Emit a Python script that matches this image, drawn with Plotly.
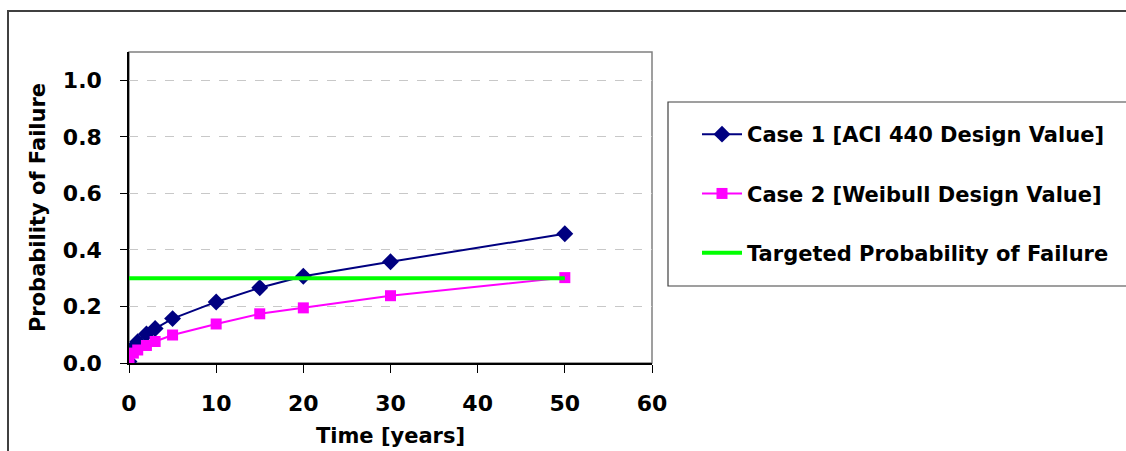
import plotly.graph_objects as go

time_years = [0, 0.5, 1, 2, 3, 5, 10, 15, 20, 30, 50]
case1_pf = [0.005, 0.055, 0.075, 0.103, 0.122, 0.157, 0.216, 0.266, 0.307, 0.358, 0.457]
case2_pf = [0.003, 0.035, 0.046, 0.062, 0.076, 0.099, 0.138, 0.174, 0.195, 0.238, 0.302]
target_time = [0, 50]
target_pf = [0.3, 0.3]

names = ["Case 1 [ACI 440 Design Value]", "Case 2 [Weibull Design Value]", "Targeted Probability of Failure"]
x_ticks = [0, 10, 20, 30, 40, 50, 60]
y_ticks = [0, 0.2, 0.4, 0.6, 0.8, 1.0]

W, H = 1126, 451
L, R, T, B = 129, 652, 52, 363
pw, ph = R - L, B - T

def px(x):
    return (x - L) / pw

def py(y):
    return (B - y) / ph

FONT = "DejaVu Sans, Liberation Sans, Arial, sans-serif"

fig = go.Figure()
fig.add_trace(go.Scatter(x=time_years, y=case1_pf, mode="lines+markers", name="<b>" + names[0] + "</b>",
                         line=dict(color="#000080", width=2), legendgroup="a",
                         marker=dict(symbol="diamond", size=13, color="#000080")))
fig.add_trace(go.Scatter(x=time_years, y=case2_pf, mode="lines+markers", name="<b>" + names[1] + "</b>",
                         line=dict(color="#FF00FF", width=2), legendgroup="b",
                         marker=dict(symbol="square", size=11, color="#FF00FF")))
fig.add_trace(go.Scatter(x=target_time, y=target_pf, mode="lines", name="<b>" + names[2] + "</b>",
                         line=dict(color="#00FF00", width=4), legendgroup="c"))

shapes = [
    dict(type="rect", xref="paper", yref="paper", x0=px(8), x1=px(1140), y0=py(11), y1=py(470),
         line=dict(color="#404040", width=2), layer="below"),
    dict(type="rect", xref="paper", yref="paper", x0=0, x1=1, y0=0, y1=1,
         line=dict(color="#808080", width=1.5), layer="below"),
    dict(type="rect", xref="paper", yref="paper", x0=px(668), x1=px(1140), y0=py(102), y1=py(286),
         line=dict(color="#404040", width=1.2), layer="below"),
]

fig.update_layout(
    width=W, height=H,
    margin=dict(l=L, r=W - R, t=T, b=H - B, autoexpand=False),
    paper_bgcolor="white", plot_bgcolor="white",
    font=dict(family=FONT, color="black", size=22),
    shapes=shapes,
    showlegend=True,
    legend=dict(x=px(697), y=py(114), xanchor="left", yanchor="top",
                font=dict(family=FONT, size=21, color="black"),
                tracegroupgap=29, bgcolor="rgba(0,0,0,0)", borderwidth=0,
                traceorder="grouped", itemwidth=40),
)

fig.update_xaxes(range=[0, 60], tickmode="array", tickvals=x_ticks,
                 ticktext=["<b>%d</b>" % v for v in x_ticks],
                 showgrid=False, zeroline=False, showline=True, linecolor="black", linewidth=1.5,
                 ticks="outside", ticklen=8, tickcolor="black", ticklabelstandoff=12,
                 tickfont=dict(size=22, family=FONT), automargin=False,
                 title=dict(text="<b>Time [years]</b>", font=dict(size=21, family=FONT), standoff=13))
fig.update_yaxes(range=[0, 1.1], tickmode="array", tickvals=y_ticks,
                 ticktext=["<b>%.1f</b>" % v for v in y_ticks],
                 showgrid=True, gridcolor="#c8c8c8", griddash="dash", gridwidth=1,
                 zeroline=False, showline=True, linecolor="black", linewidth=1.5,
                 ticks="outside", ticklen=7, tickcolor="black", ticklabelstandoff=14,
                 tickfont=dict(size=22, family=FONT), automargin=False,
                 title=dict(text="<b>Probability of Failure</b>", font=dict(size=21, family=FONT), standoff=12))

fig.write_html("out.html")
